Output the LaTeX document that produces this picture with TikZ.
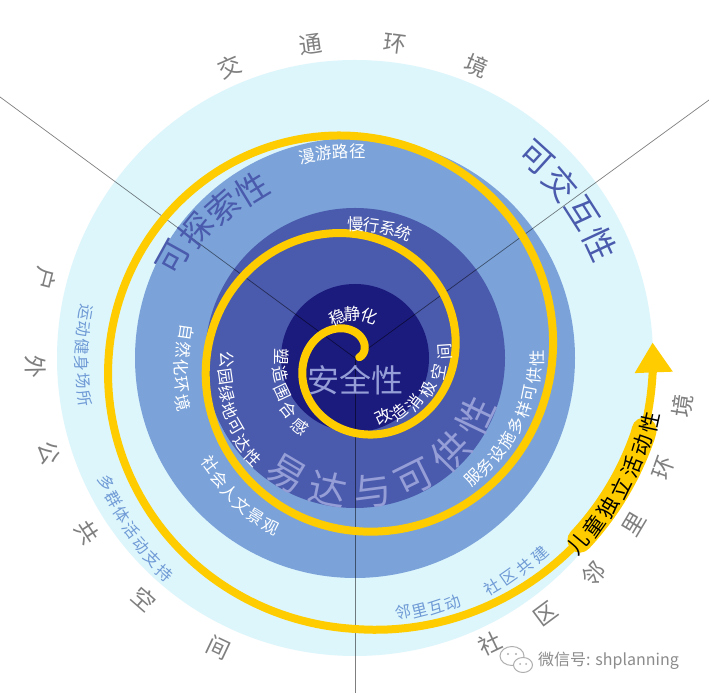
\documentclass[tikz,border=0pt]{standalone}
\usepackage{fontspec}
\setmainfont{Noto Sans CJK SC}
\usetikzlibrary{arrows.meta}
\definecolor{cCyan}{HTML}{DDF6FC}
\definecolor{cMid}{HTML}{7BA3D9}
\definecolor{cRing}{HTML}{4A5AAC}
\definecolor{cNavy}{HTML}{1B1A7D}
\definecolor{cGold}{HTML}{FFCC00}
\definecolor{cLav}{HTML}{959ED6}
\definecolor{cLBlue}{HTML}{6F9AD5}
\definecolor{cGray}{HTML}{7F7F7F}
\definecolor{cWm}{HTML}{8C8C8C}
\tikzset{
  divline/.style={draw=black, draw opacity=0.5, line width=0.7pt},
  spiralline/.style={draw=cGold, line width=8pt, line cap=round},
  chr/.style={inner sep=0pt, outer sep=0pt},
  graylab/.style={chr, text=cGray, font=\fontsize{23}{23}\selectfont},
  bigblue/.style={chr, text=cRing, font=\fontsize{33}{33}\selectfont},
  biglav/.style={chr, text=cLav, font=\fontsize{38}{38}\selectfont},
  wlab/.style={chr, text=white, font=\fontsize{16.5}{16.5}\selectfont},
  blab/.style={chr, text=cLBlue, font=\fontsize{16}{16}\selectfont},
  klab/.style={chr, text=black, font=\fontsize{21}{21}\selectfont},
  wmtext/.style={inner sep=0pt, text=cWm, font=\fontsize{16}{16}\selectfont},
  wmicon/.style={draw=cWm!70, line width=1pt},
  declare function={spr(\t)=(\t<990)*0.2722*(\t+5.5)+(\t>=990)*min(271+0.36*(\t-990),298);}
}
% text along arc, tops toward centre (counter-clockwise reading)
\newcommand{\ArcTxtIn}[7]{%
  \foreach \mych [count=\i] in {#7}{%
    \pgfmathsetmacro{\myang}{#5+(\i-1)*(#6)}%
    \pgfmathsetmacro{\myrad}{#3+(\i-1)*(#4)}%
    \node[#2, rotate=\myang+90] (#1\i) at ({355+\myrad*cos(\myang)},{335+\myrad*sin(\myang)}) {\mych};%
  }%
}
% text along arc, tops outward (clockwise reading)
\newcommand{\ArcTxtOut}[7]{%
  \foreach \mych [count=\i] in {#7}{%
    \pgfmathsetmacro{\myang}{#5+(\i-1)*(#6)}%
    \pgfmathsetmacro{\myrad}{#3+(\i-1)*(#4)}%
    \node[#2, rotate=\myang-90] (#1\i) at ({355+\myrad*cos(\myang)},{335+\myrad*sin(\myang)}) {\mych};%
  }%
}
\begin{document}
\begin{tikzpicture}[x=1pt,y=1pt]
\useasboundingbox (0,0) rectangle (709,693);
\fill[white] (0,0) rectangle (709,693);
\coordinate (C) at (355,335);
% rings
\fill[cCyan] (C) circle[radius=298];
\fill[cMid] (C) circle[radius=220];
\fill[cRing] (C) circle[radius=150];
\fill[cNavy] (C) circle[radius=74];
% dividing lines
\coordinate (L1) at (0,596);
\coordinate (L2) at (709,593);
\coordinate (L3) at (355,0);
\draw[divline] (C) -- (L1);
\draw[divline] (C) -- (L2);
\draw[divline] (C) -- (L3);
% spiral
\draw[spiralline, -{Triangle[width=36pt,length=30pt]}] plot[domain=10:1083, samples=700, variable=\t]
  ({355+spr(\t)*cos(\t)},{335+spr(\t)*sin(\t)});
\draw[draw=cGold, line width=25pt, line cap=round] plot[domain=1041:1066, samples=40, variable=\t]
  ({355+spr(\t)*cos(\t)},{335+spr(\t)*sin(\t)});
% outer grey labels
\ArcTxtOut{jt}{graylab}{317}{0}{113.3}{-15.3}{交,通,环,境}
\ArcTxtIn{hw}{graylab}{320}{0}{165.7}{15.8}{户,外,公,共,空,间}
\ArcTxtIn{sq}{graylab}{316}{3}{295.4}{11.25}{社,区,邻,里,环,境}
% big titles
\ArcTxtOut{kj}{bigblue}{270}{0}{47.8}{-7.6}{可,交,互,性}
\ArcTxtOut{kt}{bigblue}{207}{-3}{151}{-9.9}{可,探,索,性}
\ArcTxtIn{yd}{biglav}{134}{0}{239.4}{19}{易,达,与,可,供,性}
\node[chr, text=cLav, font=\fontsize{32}{32}\selectfont] (aqx) at (355,313) {安全性};
% white labels
\ArcTxtOut{my}{wlab}{207}{0}{103.4}{-4.7}{漫,游,路,径}
\ArcTxtOut{mx}{wlab}{134}{0}{89.8}{-7}{慢,行,系,统}
\ArcTxtOut{wj}{wlab}{44}{0}{113.7}{-21}{稳,静,化}
\ArcTxtIn{sz}{wlab}{73}{3.8}{179.2}{13}{塑,造,围,合,感}
\ArcTxtIn{gz}{wlab}{65}{5}{295.4}{13.7}{改,造,消,极,空,间}
\ArcTxtIn{zr}{wlab}{170}{2}{171.5}{5.8}{自,然,化,环,境}
\ArcTxtIn{gy}{wlab}{128}{2.5}{180.9}{7.25}{公,园,绿,地,可,达,性}
\ArcTxtIn{sh}{wlab}{180}{1.8}{216.4}{5.4}{社,会,人,文,景,观}
\ArcTxtIn{fw}{wlab}{168}{1.75}{314.5}{5.69}{服,务,设,施,多,样,可,供,性}
% light-blue labels
\ArcTxtIn{yd}{blab}{273}{0}{170.3}{3.64}{运,动,健,身,场,所}
\ArcTxtIn{dq}{blab}{278}{1.5}{206.7}{3.63}{多,群,体,活,动,支,持}
\ArcTxtIn{lh}{blab}{259}{1.7}{280.7}{3.7}{邻,里,互,动}
\ArcTxtIn{sg}{blab}{267}{1}{300.9}{4.1}{社,区,共,建}
% label on the band
\ArcTxtIn{et}{klab}{290}{2}{320.3}{4.55}{儿,童,独,立,活,动,性}
% watermark
\draw[wmicon, fill=white] (512,37) ellipse[x radius=12, y radius=9.5];
\fill[cWm!70] (508,39) circle[radius=1.2];
\fill[cWm!70] (516,39) circle[radius=1.2];
\draw[wmicon, fill=white] (523,28) ellipse[x radius=9.5, y radius=7.5];
\fill[cWm!70] (520,29) circle[radius=1];
\fill[cWm!70] (526,29) circle[radius=1];
\node[wmtext, anchor=west] (wm) at (538,32) {微信号: shplanning};
\end{tikzpicture}
\end{document}
